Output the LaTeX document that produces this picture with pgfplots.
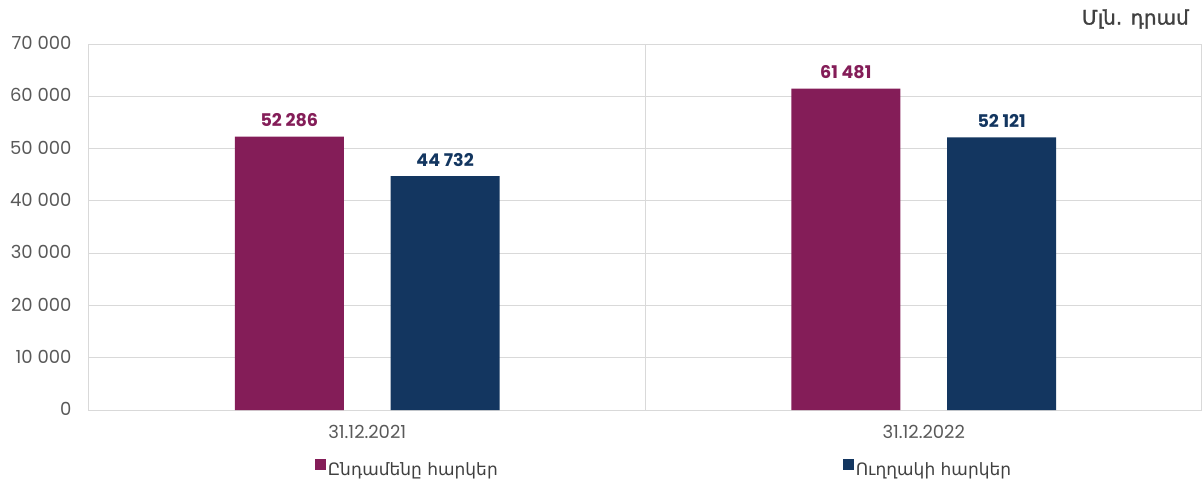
\documentclass[border=0pt]{standalone}
\usepackage{fontspec}
\setmainfont{Poppins}
\newfontfamily\armfont{DejaVu Sans}
\newfontfamily\armfontb[FakeBold=1.3]{DejaVu Sans}
\usepackage{pgfplots}
\pgfplotsset{compat=1.18}
\definecolor{cpurple}{HTML}{841D58}
\definecolor{cblue}{HTML}{133660}
\definecolor{cgrid}{HTML}{D9D9D9}
\definecolor{ctext}{HTML}{595959}
\definecolor{cdark}{HTML}{404040}
\begin{document}
\begin{tikzpicture}
\useasboundingbox (-89pt,-69pt) rectangle (1113pt,410pt);
\begin{axis}[
  at={(0pt,0pt)}, anchor=south west,
  scale only axis, width=1113pt, height=366pt,
  clip=false,
  xmin=-0.5, xmax=1.5, ymin=0, ymax=70000,
  scaled y ticks=false,
  xtick={0,1}, xticklabels={31.12.2021,31.12.2022},
  minor xtick={-0.5,0.5,1.5},
  ytick={0,10000,20000,30000,40000,50000,60000,70000},
  yticklabels={0,10 000,20 000,30 000,40 000,50 000,60 000,70 000},
  ymajorgrids, xminorgrids,
  grid style={cgrid, line width=1pt},
  minor grid style={cgrid, line width=1pt},
  axis line style={cgrid, line width=1pt},
  major tick length=0pt, minor tick length=0pt,
  tick style={draw=none},
  ticklabel style={font=\fontsize{18}{21}\selectfont, text=ctext},
  yticklabel style={anchor=east, xshift=-14pt, yshift=1pt},
  xticklabel style={anchor=north, yshift=-12pt},
  point meta=explicit symbolic,
  nodes near coords,
  legend columns=2,
  legend style={at={(0.5166,-0.161)}, anchor=center, draw=none, fill=none,
    font=\fontsize{17}{20}\selectfont, text=cdark,
    /tikz/every even column/.append style={column sep=343pt},
    /tikz/every odd column/.append style={column sep=0pt}},
  legend cell align=left,
]
\addplot[ybar, fill=cpurple, draw=none, bar width=0.196, bar shift=0,
  nodes near coords style={font=\bfseries\fontsize{17.5}{20}\selectfont, text=cpurple, anchor=south, yshift=6pt},
  legend image code/.code={\fill[cpurple] (-6pt,-1pt) rectangle (5pt,10pt);}]
  coordinates {(-0.14,52286) [52 286] (0.86,61481) [61 481]};
\addlegendentry{\armfont Ընդամենը հարկեր}
\addplot[ybar, fill=cblue, draw=none, bar width=0.196, bar shift=0,
  nodes near coords style={font=\bfseries\fontsize{17.5}{20}\selectfont, text=cblue, anchor=south, yshift=6pt},
  legend image code/.code={\fill[cblue] (-6pt,-1pt) rectangle (5pt,10pt);}]
  coordinates {(0.14,44732) [44 732] (1.14,52121) [52 121]};
\addlegendentry{\armfont Ուղղակի հարկեր}
\node[anchor=east, font=\fontsize{20}{24}\selectfont, text=cdark, inner sep=0pt] at (rel axis cs:1,1) [xshift=-13pt, yshift=25pt] {\armfontb Մլն. դրամ};
\end{axis}
\end{tikzpicture}
\end{document}
